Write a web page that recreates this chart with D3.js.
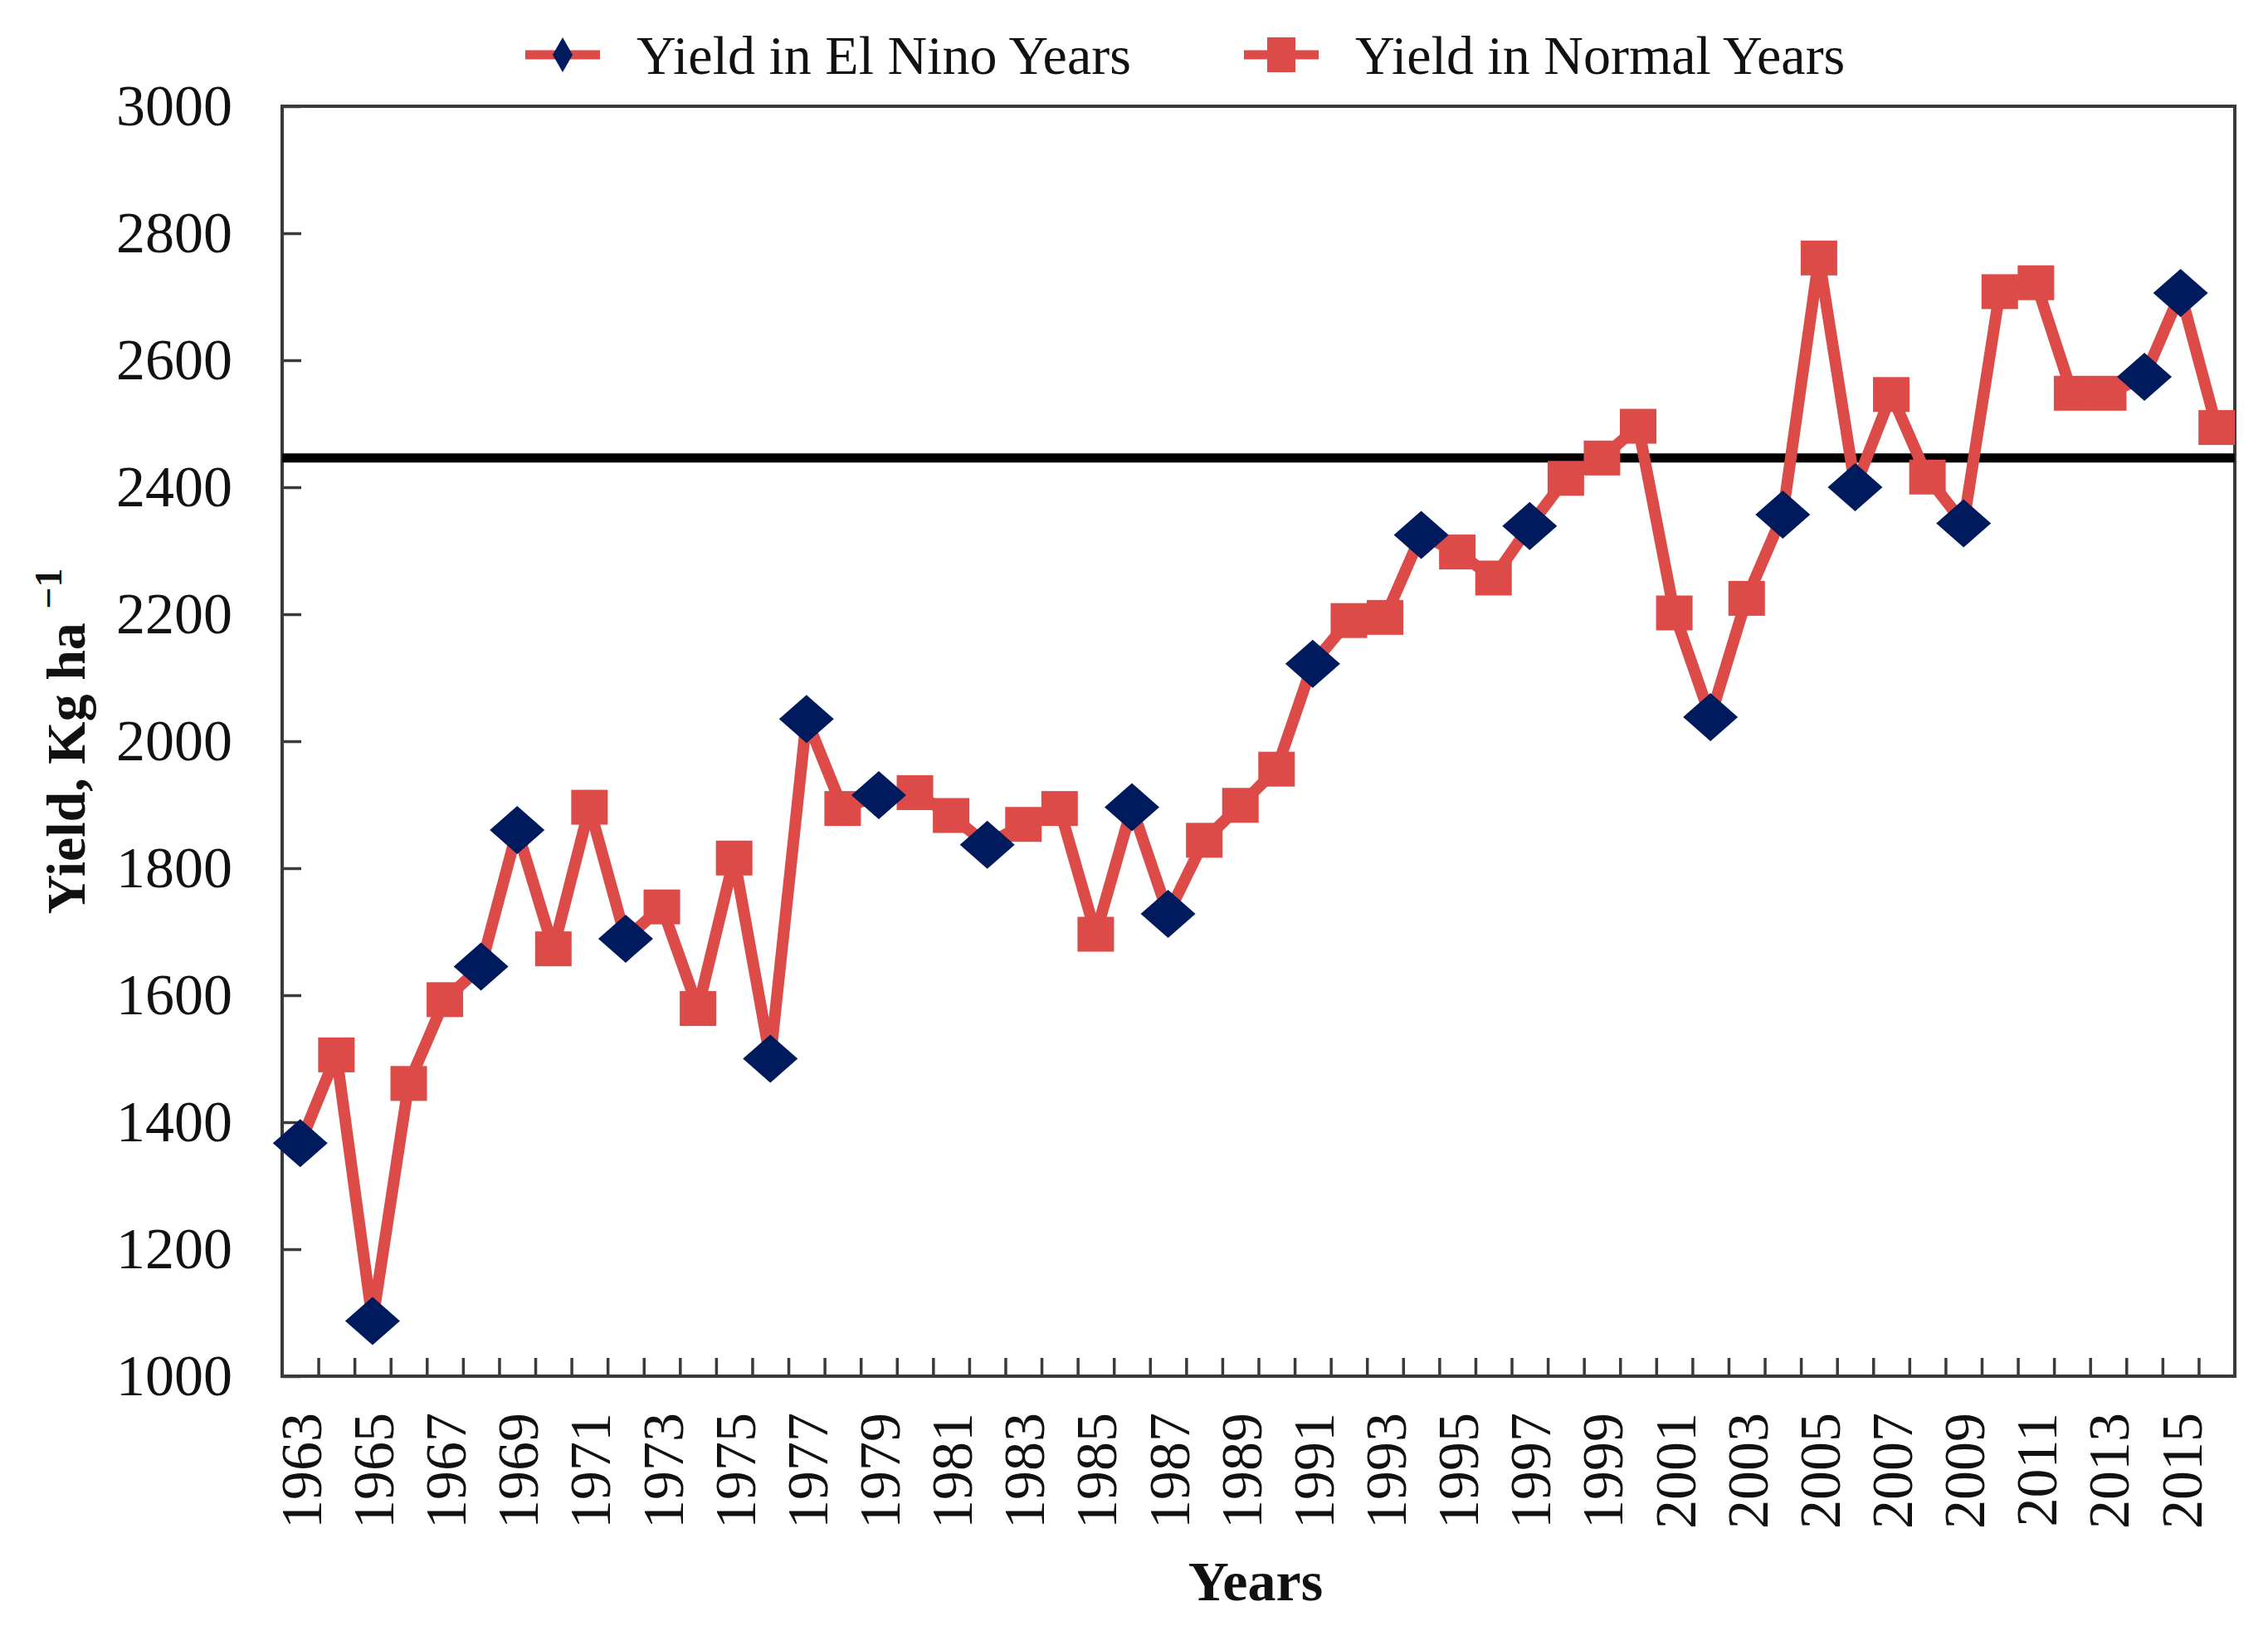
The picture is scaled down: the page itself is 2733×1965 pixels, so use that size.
<!DOCTYPE html>
<html>
<head>
<meta charset="utf-8">
<script src="https://cdn.jsdelivr.net/npm/d3@7"></script>
<style>
  html, body { margin: 0; padding: 0; background: #ffffff; }
  svg { display: block; }
</style>
</head>
<body>
<svg id="chart" width="2733" height="1965"></svg>
<script>
// ---------- DATA ----------
const years = [1963,1964,1965,1966,1967,1968,1969,1970,1971,1972,1973,1974,1975,1976,1977,1978,1979,1980,1981,1982,1983,1984,1985,1986,1987,1988,1989,1990,1991,1992,1993,1994,1995,1996,1997,1998,1999,2000,2001,2002,2003,2004,2005,2006,2007,2008,2009,2010,2011,2012,2013,2014,2015,2016];
const yields = [1367,1506,1087,1461,1593,1645,1860,1673,1896,1689,1739,1579,1816,1500,2035,1894,1915,1919,1883,1837,1869,1894,1696,1896,1728,1844,1899,1956,2122,2190,2195,2325,2298,2257,2339,2414,2446,2496,2202,2038,2225,2357,2761,2400,2546,2416,2343,2708,2722,2548,2548,2574,2706,2494];
const elNinoYears = [1963,1965,1968,1969,1972,1976,1977,1979,1982,1986,1987,1991,1994,1997,2002,2004,2006,2009,2014,2015];
const meanYield = 2446;
const yTickValues = [1000,1200,1400,1600,1800,2000,2200,2400,2600,2800,3000];
const xLabelYears = [1963,1965,1967,1969,1971,1973,1975,1977,1979,1981,1983,1985,1987,1989,1991,1993,1995,1997,1999,2001,2003,2005,2007,2009,2011,2013,2015];
const seriesNames = ["Yield in El Nino Years", "Yield in Normal Years"];

// ---------- LAYOUT ----------
const L = 340, R = 2693, T = 128, B = 1658;
const RED = "#dc4b47", NAVY = "#001a5e", FRAME = "#3a3a3a";
const FONT = "'Liberation Serif', 'Times New Roman', serif";

const svg = d3.select("#chart");
const data = years.map((yr, i) => ({ year: yr, value: yields[i], elNino: elNinoYears.includes(yr) }));

const x = d3.scalePoint().domain(years).range([L, R]).padding(0.5);
const xb = d3.scaleLinear().domain([years[0] - 0.5, years[years.length - 1] + 0.5]).range([L, R]);
const y = d3.scaleLinear().domain([1000, 3000]).range([B, T]);

// Y axis (ticks inside)
const yAxis = svg.append("g").attr("transform", `translate(${L},0)`)
  .call(d3.axisLeft(y).tickValues(yTickValues).tickSize(-23).tickPadding(60).tickFormat(d3.format("d")));
yAxis.select(".domain").remove();
yAxis.selectAll(".tick line").attr("stroke", FRAME).attr("stroke-width", 3.5);
yAxis.selectAll(".tick text").attr("font-family", FONT).attr("font-size", 70).attr("fill", "#111");

// X axis boundary ticks (inside)
const boundaries = years.slice(1).map(yr => yr - 0.5);
const xTicks = svg.append("g").attr("transform", `translate(0,${B})`)
  .call(d3.axisBottom(xb).tickValues(boundaries).tickSize(-22).tickFormat(""));
xTicks.select(".domain").remove();
xTicks.selectAll(".tick line").attr("stroke", FRAME).attr("stroke-width", 3.5);

// X axis labels (rotated)
const xLab = svg.append("g").attr("transform", `translate(0,${B})`)
  .call(d3.axisBottom(x).tickValues(xLabelYears).tickSize(0));
xLab.select(".domain").remove();
xLab.selectAll(".tick text")
  .attr("font-family", FONT).attr("font-size", 70).attr("fill", "#111")
  .attr("transform", "rotate(-90)")
  .attr("text-anchor", "end")
  .attr("x", -44).attr("y", 0).attr("dy", "0.35em");

// Frame
svg.append("rect").attr("x", L).attr("y", T).attr("width", R - L).attr("height", B - T)
  .attr("fill", "none").attr("stroke", FRAME).attr("stroke-width", 4);

// Mean line
svg.append("line").attr("x1", L).attr("x2", R).attr("y1", y(meanYield)).attr("y2", y(meanYield))
  .attr("stroke", "#000").attr("stroke-width", 11);

// Red connecting line
const line = d3.line().x(d => x(d.year)).y(d => y(d.value));
svg.append("path").datum(data).attr("d", line)
  .attr("fill", "none").attr("stroke", RED).attr("stroke-width", 14).attr("stroke-linejoin", "round");

// Markers
const SQ_W = 44, SQ_H = 42, DM_W = 66, DM_H = 58;
svg.append("g").selectAll("rect").data(data.filter(d => !d.elNino)).join("rect")
  .attr("x", d => x(d.year) - SQ_W / 2).attr("y", d => y(d.value) - SQ_H / 2)
  .attr("width", SQ_W).attr("height", SQ_H).attr("fill", RED);
const diamond = (cx, cy, w, h) => `M${cx - w/2},${cy} L${cx},${cy - h/2} L${cx + w/2},${cy} L${cx},${cy + h/2} Z`;
svg.append("g").selectAll("path").data(data.filter(d => d.elNino)).join("path")
  .attr("d", d => diamond(x(d.year), y(d.value), DM_W, DM_H)).attr("fill", NAVY);

// Axis titles
svg.append("text").attr("x", 1513).attr("y", 1928).attr("text-anchor", "middle")
  .attr("font-family", FONT).attr("font-size", 68).attr("font-weight", "bold").attr("fill", "#111")
  .text("Years");
const yt = svg.append("text").attr("transform", "translate(102,893) rotate(-90)")
  .attr("text-anchor", "middle").attr("font-family", FONT).attr("font-size", 66)
  .attr("font-weight", "bold").attr("fill", "#111");
yt.append("tspan").text("Yield,  Kg ha ");
yt.append("tspan").attr("dy", -28).attr("font-size", 46).text("\u22121");

// Legend
const legendItems = [
  { name: seriesNames[0], x0: 633, type: "diamond" },
  { name: seriesNames[1], x0: 1499, type: "square" }
];
const LY = 66;
legendItems.forEach(it => {
  const g = svg.append("g");
  g.append("line").attr("x1", it.x0).attr("x2", it.x0 + 90).attr("y1", LY).attr("y2", LY)
    .attr("stroke", RED).attr("stroke-width", 11);
  const cx = it.x0 + 45;
  if (it.type === "diamond") {
    g.append("path").attr("d", diamond(cx, LY, 24, 42)).attr("fill", NAVY);
  } else {
    g.append("rect").attr("x", cx - 17).attr("y", LY - 21).attr("width", 34).attr("height", 42).attr("fill", RED);
  }
  g.append("text").attr("x", it.x0 + 134).attr("y", LY).attr("dy", "0.35em")
    .attr("font-family", FONT).attr("font-size", 66).attr("fill", "#111").text(it.name);
});
</script>
</body>
</html>
